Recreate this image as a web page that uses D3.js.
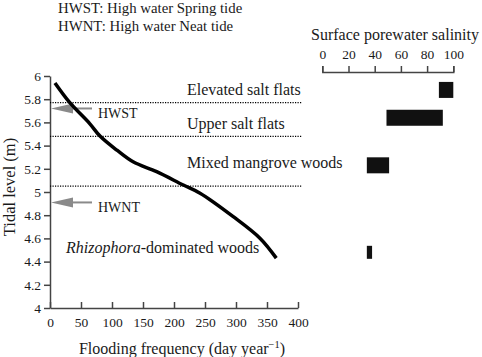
<!DOCTYPE html>
<html><head><meta charset="utf-8">
<script src="https://cdn.jsdelivr.net/npm/d3@7"></script>
<style>
body{margin:0;background:#fff;}
svg text{font-family:"Liberation Serif","Times New Roman",serif !important;}
</style></head><body>
<svg id="c" width="482" height="357"></svg>
<script>
// Flooding frequency curve (days/yr) vs tidal level (m)
const floodDays = [8, 32, 64, 81, 108, 134, 172, 215, 242, 295, 339, 365];
const floodLevel = [5.94, 5.77, 5.59, 5.48, 5.36, 5.26, 5.175, 5.06, 4.99, 4.79, 4.60, 4.43];
// zone boundaries (dotted lines)
const boundaries = [5.77, 5.48, 5.05];
// tide markers
const tideNames = ["HWST", "HWNT"];
const tideLevels = [5.72, 4.91];
// zones and salinity ranges
const zones = ["Elevated salt flats", "Upper salt flats", "Mixed mangrove woods", "Rhizophora-dominated woods"];
const zoneLabelLevel = [5.836, 5.543, 5.207, 4.474];
const zoneBarLevel = [5.88, 5.64, 5.23, 4.48];
const salinityMin = [89, 49, 34, 34];
const salinityMax = [100, 92, 51, 38];
const yTicks = [4, 4.2, 4.4, 4.6, 4.8, 5, 5.2, 5.4, 5.6, 5.8, 6];
const xTicks = [0, 50, 100, 150, 200, 250, 300, 350, 400];
const salTicks = [0, 20, 40, 60, 80, 100];

const svg = d3.select("#c");
const x = d3.scaleLinear().domain([0, 400]).range([50, 298]);
const y = d3.scaleLinear().domain([4, 6]).range([308, 76]);
const s = d3.scaleLinear().domain([0, 100]).range([322.3, 453.3]);
const ink = "#1a1a1a";

// header
svg.append("text").attr("x", 58).attr("y", 13).attr("font-size", 14.8).attr("fill", ink).text("HWST: High water Spring tide");
svg.append("text").attr("x", 58).attr("y", 31).attr("font-size", 14.8).attr("fill", ink).text("HWNT: High water Neat tide");

// axes
const gy = svg.append("g").attr("transform", `translate(${x(0)},0)`)
  .call(d3.axisLeft(y).tickValues(yTicks).tickFormat(d => String(+d.toFixed(1))).tickSize(6).tickSizeOuter(0).tickPadding(3));
const gx = svg.append("g").attr("transform", `translate(0,${y(4)})`)
  .call(d3.axisBottom(x).tickValues(xTicks).tickSize(-6).tickSizeOuter(0).tickPadding(9));
[gy, gx].forEach(g => {
  g.selectAll("text").attr("font-size", 13.5).attr("fill", ink);
  g.selectAll("line,path").attr("stroke", "#444").attr("stroke-width", 1.5);
});

svg.append("text").attr("transform", "translate(15,187) rotate(-90)").attr("text-anchor", "middle")
  .attr("font-size", 16.5).attr("fill", ink).text("Tidal level (m)");
const xt = svg.append("text").attr("x", 182).attr("y", 354).attr("text-anchor", "middle").attr("font-size", 16).attr("fill", ink);
xt.append("tspan").text("Flooding frequency (day year");
xt.append("tspan").attr("dy", -6).attr("font-size", 10.5).text("−1");
xt.append("tspan").attr("dy", 6).text(")");

// dotted boundaries
svg.selectAll("line.b").data(boundaries).join("line")
  .attr("x1", x(0)).attr("x2", 302).attr("y1", d => y(d)).attr("y2", d => y(d))
  .attr("stroke", "#000").attr("stroke-width", 1.2).attr("stroke-dasharray", "1.2,1.3");

// tide arrows
tideLevels.forEach((lv, i) => {
  const yy = y(lv);
  svg.append("line").attr("x1", 70).attr("x2", 92).attr("y1", yy).attr("y2", yy).attr("stroke", "#8a8a8a").attr("stroke-width", 2);
  svg.append("path").attr("d", `M${x(0) + 1},${yy}L${x(0) + 23},${yy - 5}L${x(0) + 23},${yy + 5}Z`).attr("fill", "#8a8a8a");
  svg.append("text").attr("x", 98).attr("y", yy + 10).attr("font-size", 14).attr("fill", ink).text(tideNames[i]);
});

// curve
const line = d3.line().x((d, i) => x(floodDays[i])).y(d => y(d)).curve(d3.curveCatmullRom);
svg.append("path").attr("d", line(floodLevel)).attr("fill", "none").attr("stroke", "#000").attr("stroke-width", 3.5);

// zone labels
zones.forEach((z, i) => {
  const t = svg.append("text").attr("y", y(zoneLabelLevel[i])).attr("font-size", 16).attr("fill", ink);
  if (i === 3) {
    t.attr("x", 66);
    t.append("tspan").attr("font-style", "italic").text("Rhizophora");
    t.append("tspan").text("-dominated woods");
  } else {
    t.attr("x", 187).text(z);
  }
});

// salinity axis
svg.append("text").attr("x", 395).attr("y", 40).attr("text-anchor", "middle").attr("font-size", 16).attr("fill", ink).text("Surface porewater salinity");
const gs = svg.append("g").attr("transform", "translate(0,72)")
  .call(d3.axisTop(s).tickValues(salTicks).tickSize(6).tickSizeOuter(6).tickPadding(7));
gs.selectAll("text").attr("font-size", 13.5).attr("fill", ink);
gs.selectAll("line,path").attr("stroke", "#444").attr("stroke-width", 1.5);

// salinity bars
const barH = [16, 16, 16, 13];
svg.selectAll("rect.bar").data(zones).join("rect")
  .attr("x", (d, i) => s(salinityMin[i]))
  .attr("width", (d, i) => s(salinityMax[i]) - s(salinityMin[i]))
  .attr("y", (d, i) => y(zoneBarLevel[i]) - barH[i] / 2)
  .attr("height", (d, i) => barH[i])
  .attr("fill", "#111");
</script></body></html>
